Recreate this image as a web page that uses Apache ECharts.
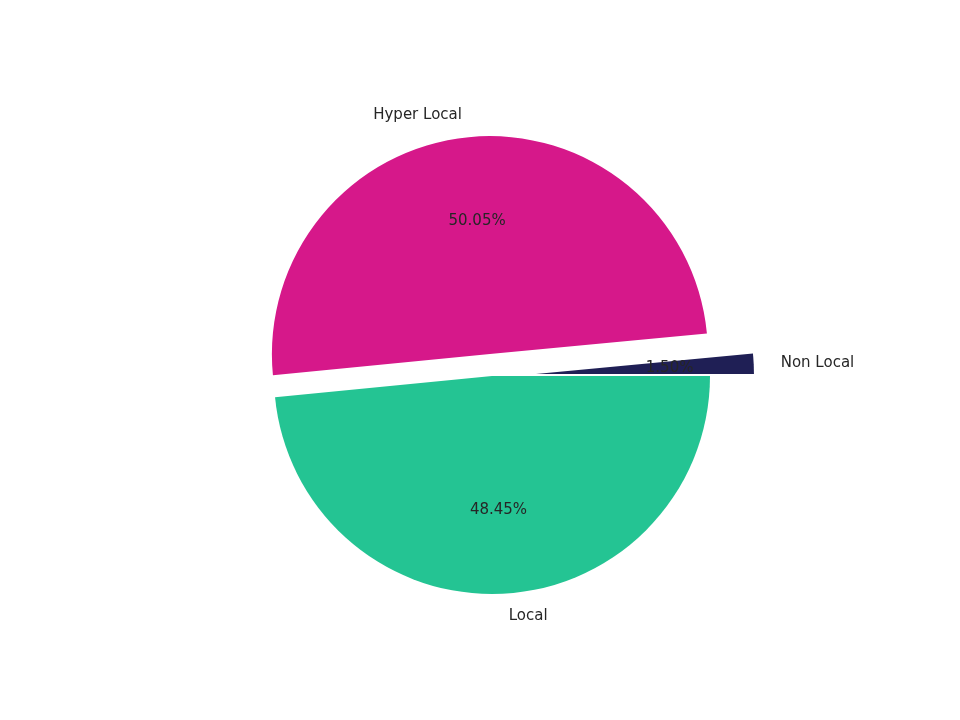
<!DOCTYPE html>
<html><head><meta charset="utf-8">
<script src="https://cdn.jsdelivr.net/npm/echarts@6/dist/echarts.min.js"></script>
<style>body{margin:0}#chart{width:960px;height:720px}</style>
</head><body><div id="chart"></div>
<script>
var names = ['Local', 'Hyper Local', 'Non Local'];
var values = [48.45, 50.05, 1.50];
var colors = ['#24c493', '#d6188a', '#1f1f55'];
var offsets = [0, 22, 44];

var R = 218;
var center = [492, 376];
var series = [];

names.forEach(function (nm, k) {
    function mk(radius, labelOpt) {
        return {
            type: 'pie',
            center: center,
            radius: radius,
            startAngle: 0,
            clockwise: true,
            silent: true,
            animation: false,
            selectedMode: 'single',
            selectedOffset: offsets[k],
            labelLine: {show: false, length: 22, length2: 0},
            emphasis: {disabled: true},
            data: names.map(function (n, i) {
                return {
                    name: n,
                    value: values[i],
                    selected: i === k && offsets[k] > 0,
                    itemStyle: {color: i === k && radius === R ? colors[i] : 'rgba(0,0,0,0)'},
                    label: {show: i === k}
                };
            }),
            label: labelOpt
        };
    }
    series.push(mk(R, {
        position: 'outside', formatter: '{b}', color: '#262626',
        fontFamily: 'DejaVu Sans', fontSize: 15
    }));
    series.push(mk(R * 1.2, {
        position: 'inner', color: '#262626',
        formatter: function (p) { return p.value.toFixed(2) + '%'; },
        fontFamily: 'DejaVu Sans', fontSize: 15
    }));
});

var chart = echarts.init(document.getElementById('chart'));
chart.setOption({backgroundColor: '#ffffff', series: series});
</script></body></html>
